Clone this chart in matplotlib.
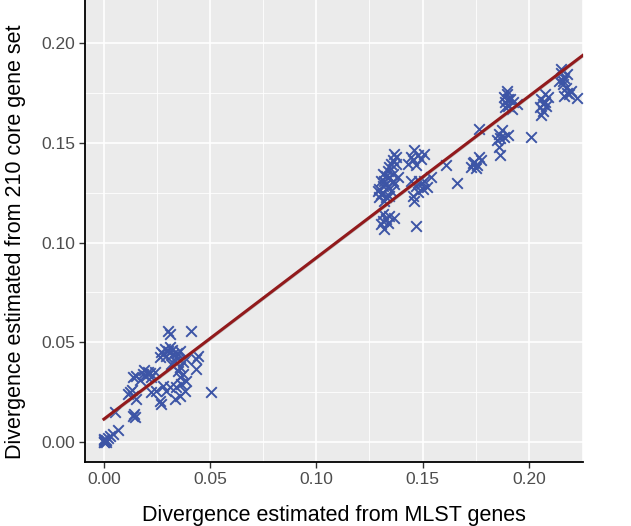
#!/usr/bin/env python3
"""
Divergence from MLST genes vs divergence from the 210 core gene set,
ggplot-style scatter with a linear fit.
"""
import numpy as np
import matplotlib
matplotlib.use("Agg")
import matplotlib.pyplot as plt
from matplotlib.ticker import MultipleLocator, FormatStrFormatter

# =====================================================================
# Data
# =====================================================================
# near the origin
origin_x = [0.000, 0.0005, 0.000, 0.001, 0.0002, 0.0012, 0.000, 0.0018,
            0.003, 0.0045, 0.0068, 0.0052]
origin_y = [0.000, 0.0003, 0.0008, 0.001, 0.0015, 0.0002, 0.000, 0.0018,
            0.003, 0.0042, 0.0058, 0.0150]

# low-divergence cloud
low_x = [0.0138, 0.0145, 0.0140,
         0.0122, 0.0138, 0.0153, 0.0115, 0.0130,
         0.0138, 0.0153, 0.0184, 0.0208, 0.0200, 0.0223, 0.0169, 0.0239, 0.0190, 0.0215,
         0.0223, 0.0247, 0.0270, 0.0262, 0.0294, 0.0310, 0.0278,
         0.0270, 0.0286, 0.0310, 0.0294, 0.0262, 0.0325, 0.0341, 0.0356, 0.0333,
         0.0317, 0.0372, 0.0356, 0.0388, 0.0300, 0.0280, 0.0320, 0.0345,
         0.0310, 0.0302, 0.0411,
         0.0348, 0.0356, 0.0372, 0.0388, 0.0364, 0.0341,
         0.0333, 0.0356, 0.0380,
         0.0434, 0.0434, 0.0442, 0.0505]
low_y = [0.0133, 0.0125, 0.0140,
         0.0250, 0.0233, 0.0217, 0.0242, 0.0262,
         0.0325, 0.0333, 0.0340, 0.0350, 0.0330, 0.0325, 0.0310, 0.0350, 0.0362, 0.0345,
         0.0250, 0.0258, 0.0192, 0.0208, 0.0258, 0.0275, 0.0283,
         0.0450, 0.0467, 0.0475, 0.0433, 0.0425, 0.0442, 0.0425, 0.0458, 0.0408,
         0.0392, 0.0400, 0.0375, 0.0417, 0.0455, 0.0440, 0.0460, 0.0445,
         0.0542, 0.0558, 0.0558,
         0.0358, 0.0325, 0.0342, 0.0308, 0.0292, 0.0275,
         0.0217, 0.0233, 0.0258,
         0.0417, 0.0367, 0.0433, 0.0250]

# middle group (~0.13 - 0.17)
mid_x = [0.1305, 0.1297, 0.1313, 0.1320, 0.1328, 0.1336, 0.1344, 0.1352, 0.1359,
         0.1375, 0.1367, 0.1328, 0.1352, 0.1367, 0.1383, 0.1305, 0.1313, 0.1336,
         0.1320, 0.1359, 0.1375, 0.1289, 0.1297, 0.1344, 0.1328, 0.1359, 0.1313, 0.1344,
         0.1313, 0.1328, 0.1344, 0.1305, 0.1320, 0.1336, 0.1367, 0.1313,
         0.1461, 0.1477, 0.1453, 0.1492, 0.1469, 0.1430, 0.1508, 0.1445,
         0.1445, 0.1469, 0.1492, 0.1508, 0.1477, 0.1453, 0.1461, 0.1523, 0.1539,
         0.1500, 0.1484,
         0.1469, 0.1611, 0.1660]
mid_y = [0.1243, 0.1268, 0.1285, 0.1311, 0.1336, 0.1361, 0.1378, 0.1395, 0.1412,
         0.1429, 0.1446, 0.1226, 0.1260, 0.1294, 0.1328, 0.1311, 0.1345, 0.1277,
         0.1209, 0.1345, 0.1395, 0.1260, 0.1226, 0.1328, 0.1294, 0.1311, 0.1251, 0.1235,
         0.1142, 0.1116, 0.1133, 0.1091, 0.1066, 0.1099, 0.1125, 0.1108,
         0.1463, 0.1437, 0.1412, 0.1421, 0.1387, 0.1395, 0.1446, 0.1429,
         0.1311, 0.1285, 0.1294, 0.1311, 0.1252, 0.1235, 0.1209, 0.1277, 0.1328,
         0.1268, 0.1311,
         0.1083, 0.1390, 0.1297]

# high group (~0.17 - 0.22)
high_x = [0.1742, 0.1758, 0.1750, 0.1727, 0.1773, 0.1735, 0.1765, 0.1765,
          0.1858, 0.1873, 0.1866, 0.1850, 0.1904, 0.1881, 0.1858, 0.1866,
          0.1897, 0.1912, 0.1889, 0.1904, 0.1927, 0.1943, 0.1920, 0.1897, 0.1881,
          0.1904, 0.1889, 0.2012,
          0.2059, 0.2074, 0.2051, 0.2066, 0.2082, 0.2089, 0.2059, 0.2074, 0.2066,
          0.2151, 0.2167, 0.2143, 0.2159, 0.2182, 0.2174, 0.2190, 0.2167, 0.2197,
          0.2151, 0.2159, 0.2226, 0.2180]
high_y = [0.1406, 0.1390, 0.1373, 0.1381, 0.1414, 0.1398, 0.1431, 0.1571,
          0.1546, 0.1563, 0.1522, 0.1513, 0.1538, 0.1530, 0.1480, 0.1439,
          0.1744, 0.1719, 0.1703, 0.1686, 0.1703, 0.1695, 0.1670, 0.1761, 0.1728,
          0.1719, 0.1678, 0.1530,
          0.1719, 0.1703, 0.1678, 0.1662, 0.1686, 0.1728, 0.1637, 0.1744, 0.1695,
          0.1852, 0.1827, 0.1810, 0.1794, 0.1843, 0.1777, 0.1744, 0.1736, 0.1761,
          0.1868, 0.1810, 0.1724, 0.1750]

# linear fit as drawn in the reference
FIT_INTERCEPT = 0.0115
FIT_SLOPE = 0.809
FIT_RANGE = (0.0, 0.2255)
FIT_SE = 0.0009

XLIM = (-0.0089, 0.2255)
YLIM = (-0.0100, 0.2216)

POINT_COLOR = "#3D55A6"
LINE_COLOR = "#921A1C"
PANEL_BG = "#EBEBEB"


def make_plot(out_path="out.png"):
    plt.rcParams["font.family"] = ["Liberation Sans", "DejaVu Sans"]

    x = np.array(origin_x + low_x + mid_x + high_x)
    y = np.array(origin_y + low_y + mid_y + high_y)

    fig = plt.figure(figsize=(6.31, 5.26), dpi=100)
    ax = fig.add_axes([85 / 631, 64 / 526, 498 / 631, 462 / 526])
    ax.set_facecolor(PANEL_BG)

    # grid: major + minor white lines like ggplot
    ax.xaxis.set_major_locator(MultipleLocator(0.05))
    ax.yaxis.set_major_locator(MultipleLocator(0.05))
    ax.xaxis.set_minor_locator(MultipleLocator(0.025))
    ax.yaxis.set_minor_locator(MultipleLocator(0.025))
    ax.xaxis.set_major_formatter(FormatStrFormatter("%.2f"))
    ax.yaxis.set_major_formatter(FormatStrFormatter("%.2f"))
    ax.grid(which="major", color="white", lw=1.2, zorder=0)
    ax.grid(which="minor", color="white", lw=0.6, zorder=0)
    ax.set_axisbelow(True)

    ax.scatter(x, y, marker="x", s=58, lw=1.4, color=POINT_COLOR, zorder=2)

    fx = np.linspace(FIT_RANGE[0], FIT_RANGE[1], 50)
    fy = FIT_INTERCEPT + FIT_SLOPE * fx
    ax.fill_between(fx, fy - FIT_SE, fy + FIT_SE, color="#999999", alpha=0.5,
                    lw=0, zorder=3)
    ax.plot(fx, fy, color=LINE_COLOR, lw=2.2, zorder=4)

    ax.set_xlim(*XLIM)
    ax.set_ylim(*YLIM)

    for s in ("top", "right"):
        ax.spines[s].set_visible(False)
    for s in ("left", "bottom"):
        ax.spines[s].set_color("black")
        ax.spines[s].set_linewidth(1.3)

    ax.tick_params(which="major", length=4, width=1.0, color="#333333",
                   labelcolor="#4D4D4D", labelsize=12.5, pad=3)
    ax.tick_params(which="minor", length=0)

    ax.set_xlabel("Divergence estimated from MLST genes", fontsize=15.5,
                  color="black", labelpad=13)
    ax.set_ylabel("Divergence estimated from 210 core gene set", fontsize=15.5,
                  color="black")
    ax.yaxis.set_label_coords(-0.118, 0.477)

    fig.savefig(out_path, dpi=100)
    plt.close(fig)


if __name__ == "__main__":
    make_plot()
